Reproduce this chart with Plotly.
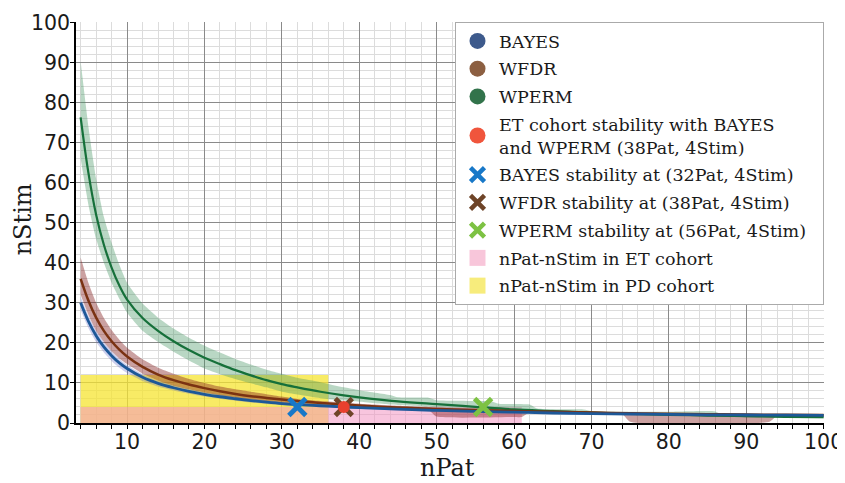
import plotly.graph_objects as go

# ---- data ----
x_curve = [4, 5, 6, 7, 8, 9, 10, 12, 14, 16, 18, 20, 22, 24, 26, 28, 30, 32, 35, 38, 40,
           45, 50, 55, 60, 65, 70, 75, 80, 85, 90, 95, 100]
bayes = [30, 25.4, 21.8, 19.0, 16.8, 15.0, 13.6, 11.4, 9.9, 8.8, 7.9, 7.15, 6.55, 6.05, 5.6, 5.2,
         4.85, 4.6, 4.3, 4.0, 3.85, 3.45, 3.15, 2.9, 2.7, 2.5, 2.35, 2.25, 2.15, 2.05, 2.0, 1.95, 1.9]
wfdr = [36, 30.6, 26.3, 23.0, 20.4, 18.3, 16.6, 14.0, 12.1, 10.7, 9.6, 8.7, 7.9, 7.25, 6.7, 6.25,
        5.85, 5.5, 5.0, 4.6, 4.35, 3.85, 3.5, 3.2, 3.0, 2.8, 2.6, 2.45, 2.3, 2.2, 2.1, 2.05, 2.0]
wperm = [76.3, 62.5, 52, 44.5, 38.8, 34.3, 30.8, 26.2, 23.0, 20.4, 18.2, 16.3, 14.7, 13.2, 11.9,
         10.7, 9.7, 8.9, 7.8, 6.9, 6.4, 5.4, 4.7, 4.05, 3.4, 3.0, 2.6, 2.3, 2.05, 1.85, 1.7, 1.55, 1.45]

gb_x = [4, 5, 6, 7, 8, 9, 10, 12, 14, 16, 18, 20, 22, 24, 26, 28, 30, 32, 35, 38, 40, 44, 45,
        49, 50, 57, 58, 62, 63, 69, 70, 75, 80, 86, 87, 90, 95, 100]
gb_hi = [90.3, 74, 61, 51.5, 45, 39.5, 35, 29.8, 26.3, 23.6, 21.3, 19.3, 17.6, 16, 14.6, 13.3,
         12.3, 11.3, 10.2, 8.9, 8.2, 7.0, 6.4, 6.3, 5.7, 5.4, 4.8, 4.6, 3.6, 3.4, 3.0, 2.8, 2.8,
         2.9, 2.0, 1.9, 1.8, 1.7]
gb_lo = [66, 54.5, 46, 40, 35, 31, 27.5, 23, 20.2, 17.8, 15.6, 13.6, 12.2, 11, 9.9, 8.9, 7.8,
         7.1, 6.2, 5.6, 5.3, 4.6, 4.5, 4.1, 3.9, 3.3, 3.0, 2.8, 2.7, 2.3, 2.2, 2.0, 1.8, 1.6,
         1.5, 1.4, 1.3, 1.2]

bb_x = [4, 5, 6, 7, 8, 9, 10, 12, 14, 16, 18, 20, 22, 24, 26, 28, 30, 32, 35, 38, 40, 45, 49,
        50, 60, 61, 62, 65, 70, 74, 75, 93, 94, 100]
bb_hi = [41.3, 35, 30, 26.2, 23.2, 20.8, 18.8, 15.9, 13.8, 12.3, 11.0, 10.0, 9.1, 8.4, 7.8,
         7.2, 6.6, 6.0, 5.5, 5.1, 4.8, 4.3, 4.0, 3.9, 3.5, 3.5, 3.3, 3.1, 2.9, 2.7, 2.6, 2.2,
         2.2, 2.2]
bb_lo = [32, 27, 23, 20.2, 17.9, 16.1, 14.7, 12.3, 10.6, 9.3, 8.4, 7.6, 6.9, 6.3, 5.8, 5.4,
         5.0, 4.8, 4.5, 4.2, 4.0, 3.4, 3.2, 1.6, 1.5, 1.5, 2.6, 2.5, 2.3, 2.2, 0.3, 0.3, 1.8, 1.8]

ub_x = [4, 5, 6, 7, 8, 9, 10, 12, 14, 16, 18, 20, 25, 30, 40, 50, 60, 70, 80, 90, 100]
ub_hi = [31.6, 26.8, 23.1, 20.2, 17.9, 16.0, 14.5, 12.2, 10.6, 9.4, 8.5, 7.7, 6.3, 5.3, 4.2,
         3.5, 3.0, 2.6, 2.4, 2.25, 2.15]
ub_lo = [28.2, 23.7, 20.2, 17.6, 15.5, 13.8, 12.5, 10.5, 9.1, 8.1, 7.3, 6.6, 5.3, 4.4, 3.5,
         2.8, 2.4, 2.1, 1.9, 1.75, 1.65]

et_point = (38, 4)
stab_bayes = (32, 4)
stab_wfdr = (38, 4)
stab_wperm = (56, 4)
pd_rect = (4, 36, 0, 12)   # x0, x1, y0, y1
et_rect = (4, 61, 0, 4)

legend_names = {
    "bayes": "BAYES",
    "wfdr": "WFDR",
    "wperm": "WPERM",
    "et": "ET cohort stability with BAYES<br>and WPERM (38Pat, 4Stim)",
    "sb": "BAYES stability at (32Pat, 4Stim)",
    "sf": "WFDR stability at (38Pat, 4Stim)",
    "sp": "WPERM stability at (56Pat, 4Stim)\u00a0\u00a0",
    "etr": "nPat-nStim in ET cohort",
    "pdr": "nPat-nStim in PD cohort",
}

fig = go.Figure()


def rect_trace(r, color):
    x0, x1, y0, y1 = r
    return go.Scatter(x=[x0, x1, x1, x0, x0], y=[y0, y0, y1, y1, y0], fill="toself",
                      fillcolor=color, mode="lines", line=dict(width=0, color=color),
                      showlegend=False, hoverinfo="skip")


fig.add_trace(rect_trace(pd_rect, "rgba(245,228,50,0.75)"))
fig.add_trace(rect_trace(et_rect, "rgba(242,150,195,0.55)"))


def band(xs, hi, lo, color):
    lower = go.Scatter(x=xs, y=lo, mode="lines", line=dict(width=0, shape="spline", smoothing=0.5),
                       showlegend=False, hoverinfo="skip")
    upper = go.Scatter(x=xs, y=hi, mode="lines", line=dict(width=0, shape="spline", smoothing=0.5),
                       fill="tonexty", fillcolor=color, showlegend=False, hoverinfo="skip")
    return [lower, upper]


fig.add_traces(band(gb_x, gb_hi, gb_lo, "rgba(70,150,100,0.38)"))
fig.add_traces(band(bb_x, bb_hi, bb_lo, "rgba(130,30,30,0.42)"))
fig.add_traces(band(ub_x, ub_hi, ub_lo, "rgba(90,100,200,0.3)"))

fig.add_trace(go.Scatter(x=x_curve, y=wperm, mode="lines",
                         line=dict(color="#16703a", width=2.2, shape="spline"), showlegend=False))
fig.add_trace(go.Scatter(x=x_curve, y=wfdr, mode="lines",
                         line=dict(color="#7a3212", width=2.5, shape="spline"), showlegend=False))
fig.add_trace(go.Scatter(x=x_curve, y=bayes, mode="lines",
                         line=dict(color="#1d5898", width=2.8, shape="spline"), showlegend=False))


def xmark(p, color):
    return go.Scatter(x=[p[0]], y=[p[1]], mode="markers", showlegend=False,
                      marker=dict(symbol="x-thin", size=17, color=color,
                                  line=dict(width=4.8, color=color)))


fig.add_trace(xmark(stab_bayes, "#1878c8"))
fig.add_trace(xmark(stab_wfdr, "#6e4428"))
fig.add_trace(xmark(stab_wperm, "#7dc243"))

fig.add_trace(go.Scatter(x=[et_point[0]], y=[et_point[1]], mode="markers", showlegend=False,
                         marker=dict(symbol="circle", size=12, color="#e8402e")))


def legend_item(name, rank, symbol, color, size=16, lw=0):
    return go.Scatter(x=[None], y=[None], mode="markers", name=name, legendrank=rank,
                      legendgroup=f"g{rank}",
                      marker=dict(symbol=symbol, size=size, color=color,
                                  line=dict(width=lw, color=color)))


fig.add_trace(legend_item(legend_names["bayes"], 1, "circle", "#3d5a8c"))
fig.add_trace(legend_item(legend_names["wfdr"], 2, "circle", "#8c5f41"))
fig.add_trace(legend_item(legend_names["wperm"], 3, "circle", "#32734b"))
fig.add_trace(legend_item(legend_names["et"], 4, "circle", "#f0553c"))
fig.add_trace(legend_item(legend_names["sb"], 5, "x-thin", "#1878c8", 14, 4.5))
fig.add_trace(legend_item(legend_names["sf"], 6, "x-thin", "#6e4428", 14, 4.5))
fig.add_trace(legend_item(legend_names["sp"], 7, "x-thin", "#7dc243", 14, 4.5))
fig.add_trace(legend_item(legend_names["etr"], 8, "square", "#f8c6da"))
fig.add_trace(legend_item(legend_names["pdr"], 9, "square", "#f7ec7c"))

axis_common = dict(
    showgrid=True, gridcolor="#8a8a8a", gridwidth=1, zeroline=False,
    showline=True, linecolor="black", linewidth=1.5,
    ticks="outside", ticklen=4, tickcolor="black",
    tickfont=dict(family="DejaVu Sans", size=20.5, color="#1a1a1a"),
    dtick=10, tick0=0, automargin=False, ticklabelstandoff=-4,
)

title_font = dict(family="DejaVu Serif", size=24, color="#1a1a1a")

# the page body has an 8px default margin, so the plot area is offset to compensate
fig.update_layout(
    width=845, height=483,
    margin=dict(l=67.5, r=28.5, t=14, b=67.5),
    paper_bgcolor="white", plot_bgcolor="white",
    xaxis=dict(range=[3.4, 100.05],
               minor=dict(dtick=2, tick0=0, showgrid=True, gridcolor="#dcdcdc",
                          ticks="outside", ticklen=4, tickcolor="black"),
               **axis_common),
    yaxis=dict(range=[0, 100.1],
               minor=dict(dtick=2, tick0=0, showgrid=True, gridcolor="#dcdcdc"),
               **axis_common),
    annotations=[
        dict(text="nPat", xref="paper", yref="paper", x=0.4973, y=-0.113,
             xanchor="center", yanchor="middle", showarrow=False, font=title_font),
        dict(text="nStim", xref="paper", yref="paper", x=-0.0714, y=0.5068,
             xanchor="center", yanchor="middle", showarrow=False, textangle=-90,
             font=title_font),
    ],
    legend=dict(x=1, xanchor="right", y=1, yanchor="top", bgcolor="white",
                bordercolor="#aaaaaa", borderwidth=1, traceorder="grouped",
                tracegroupgap=2, itemwidth=33,
                font=dict(family="DejaVu Serif", size=17.5, color="#1a1a1a")),
    showlegend=True,
)

fig.write_html("out.html", post_script="document.body.style.overflow='hidden';")
